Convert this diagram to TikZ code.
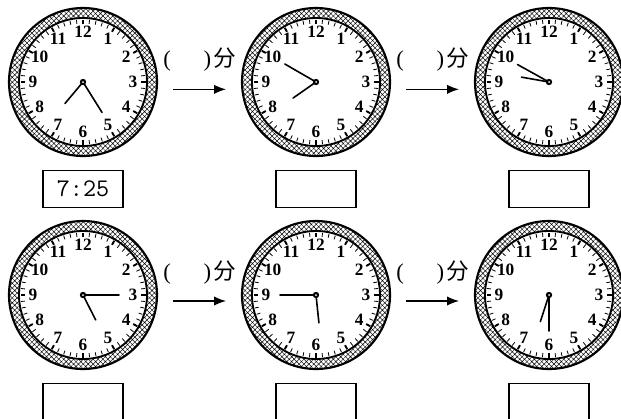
\documentclass[tikz,border=0pt]{standalone}
\usepackage{fontspec}
\setmainfont{Liberation Serif}
\newfontfamily\cjk{Noto Sans CJK SC}
\usetikzlibrary{arrows.meta,patterns.meta,positioning}

\tikzset{
  clock/.style={circle, minimum size=111pt, inner sep=0pt, outer sep=0pt},
  ring/.style={pattern={Hatch[angle=45,distance=2.6pt,line width=0.35pt]}, even odd rule},
  tick/.style={line width=0.6pt},
  hourtick/.style={line width=1.4pt},
  num/.style={font=\bfseries\fontsize{13}{13}\selectfont, inner sep=0pt},
  hand/.style={line width=1.2pt, line cap=round},
  answer/.style={draw, line width=0.9pt, minimum width=60pt, minimum height=27.75pt, inner sep=0pt},
  gap/.style={font=\fontsize{17}{17}\selectfont, inner sep=0pt},
  arr/.style={-{Latex[length=9pt,width=7pt]}, line width=0.9pt, shorten <=12pt, shorten >=12pt},
}

% #1 clock node, #2 hour hand angle, #3 minute hand angle (clockwise from 12)
\newcommand{\dial}[3]{%
  \path[ring] (#1.center) circle[radius=74] (#1.center) circle[radius=64];
  \draw[line width=1.6pt] (#1.center) circle[radius=74];
  \draw[line width=1.4pt] (#1.center) circle[radius=64];
  \foreach \m in {0,...,59}
    \draw[tick] (#1.center) ++({90-6*\m}:58.5) -- ++({90-6*\m}:4);
  \foreach \h in {0,...,11}
    \draw[hourtick] (#1.center) ++({90-30*\h}:58) -- ++({90-30*\h}:4.5);
  \foreach \n in {1,...,12}
    \path (#1.center) ++({90-30*\n}:50) node[num] {\n};
  \draw[hand] (#1.center) -- ++({90-#2}:28);
  \draw[hand] (#1.center) -- ++({90-#3}:36);
  \fill (#1.center) circle[radius=3.2];
  \fill[white] (#1.center) circle[radius=1];
}

\begin{document}
\begin{tikzpicture}[x=0.75pt, y=0.75pt, node distance=174.75pt]
    \useasboundingbox (0,0) rectangle (621,-418);

    \node(c1) [clock] at (83,-82)                          {};
    \node(c2) [clock, right of=c1]                         {};
    \node(c3) [clock, right of=c2]                         {};
    \node(c4) [clock, node distance=159.75pt, below of=c1] {};
    \node(c5) [clock, right of=c4]                         {};
    \node(c6) [clock, right of=c5]                         {};

    \dial{c1}{220}{148}
    \dial{c2}{235}{300}
    \dial{c3}{280}{299}
    \dial{c4}{153}{90}
    \dial{c5}{174}{270}
    \dial{c6}{198}{180}

    \node(b1) [answer, node distance=80pt, below of=c1] {\ttfamily\fontsize{19}{19}\selectfont 7:25};
    \node(b2) [answer, node distance=80pt, below of=c2] {};
    \node(b3) [answer, node distance=80pt, below of=c3] {};
    \node(b4) [answer, node distance=80pt, below of=c4] {};
    \node(b5) [answer, node distance=80pt, below of=c5] {};
    \node(b6) [answer, node distance=80pt, below of=c6] {};

    \node(g1) [gap, node distance=87.4pt, right of=c1, yshift=16.5pt] {(\hspace{24.5pt})\hspace{1.5pt}{\cjk 分}};
    \node(g2) [gap, node distance=87.4pt, right of=c2, yshift=16.5pt] {(\hspace{24.5pt})\hspace{1.5pt}{\cjk 分}};
    \node(g4) [gap, node distance=87.4pt, right of=c4, yshift=16.5pt] {(\hspace{24.5pt})\hspace{1.5pt}{\cjk 分}};
    \node(g5) [gap, node distance=87.4pt, right of=c5, yshift=16.5pt] {(\hspace{24.5pt})\hspace{1.5pt}{\cjk 分}};

    \draw [arr] ([yshift=-5.5pt]c1.east) to ([yshift=-5.5pt]c2.west);
    \draw [arr] ([yshift=-5.5pt]c2.east) to ([yshift=-5.5pt]c3.west);
    \draw [arr] ([yshift=-4.5pt]c4.east) to ([yshift=-4.5pt]c5.west);
    \draw [arr] ([yshift=-4.5pt]c5.east) to ([yshift=-4.5pt]c6.west);

\end{tikzpicture}
\end{document}
